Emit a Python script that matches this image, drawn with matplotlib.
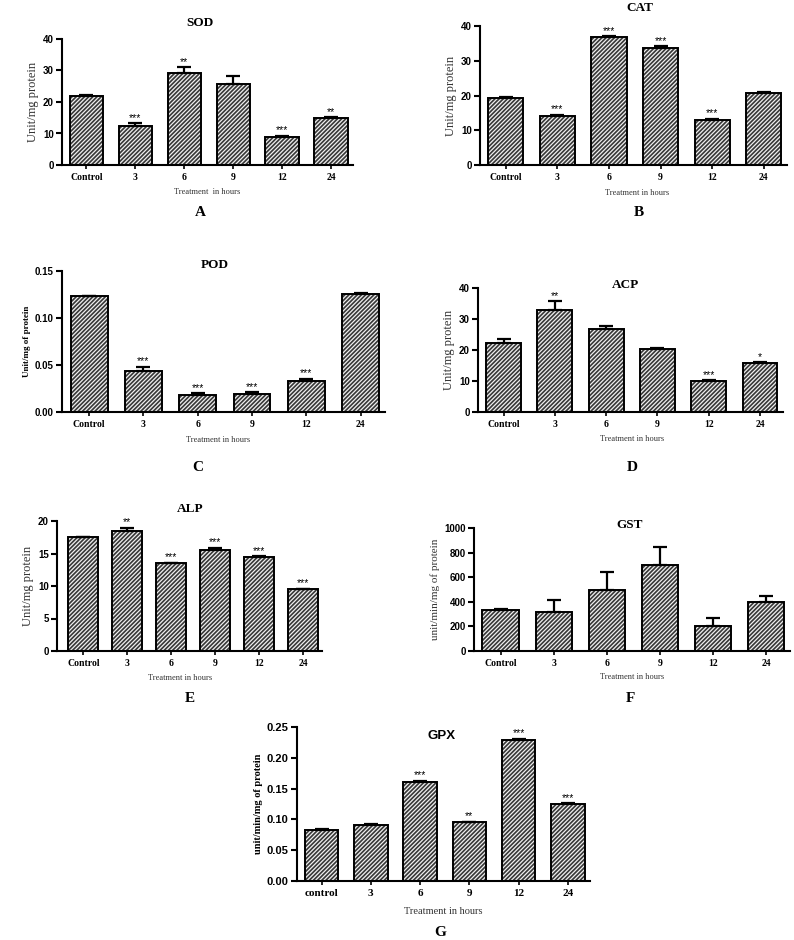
import matplotlib.pyplot as plt
import matplotlib as mpl

mpl.rcParams['hatch.linewidth'] = 0.9

# ---- data ----
hours = ['Control', '3', '6', '9', '12', '24']
hours_g = ['control', '3', '6', '9', '12', '24']

sod = [21.8, 12.5, 29.2, 25.8, 9.0, 14.8]
sod_err = [0.3, 0.7, 1.9, 2.3, 0.3, 0.3]
sod_sig = ['', '***', '**', '', '***', '**']

cat = [19.4, 14.1, 36.7, 33.7, 13.0, 20.6]
cat_err = [0.2, 0.3, 0.4, 0.5, 0.3, 0.3]
cat_sig = ['', '***', '***', '***', '***', '']

pod = [0.1232, 0.0434, 0.0180, 0.0187, 0.0325, 0.1257]
pod_err = [0.0005, 0.0050, 0.0020, 0.0025, 0.0030, 0.0010]
pod_sig = ['', '***', '***', '***', '***', '']

acp = [22.4, 32.8, 26.7, 20.2, 10.1, 15.7]
acp_err = [1.3, 3.0, 1.0, 0.5, 0.1, 0.3]
acp_sig = ['', '**', '', '', '***', '*']

alp = [17.5, 18.5, 13.5, 15.6, 14.5, 9.5]
alp_err = [0.05, 0.45, 0.05, 0.25, 0.05, 0.05]
alp_sig = ['', '**', '***', '***', '***', '***']

gst = [334, 315, 492, 696, 207, 402]
gst_err = [5, 100, 147, 146, 62, 46]
gst_sig = ['', '', '', '', '', '']

gpx = [0.0833, 0.0904, 0.1607, 0.0952, 0.2294, 0.1255]
gpx_err = [0.001, 0.0015, 0.002, 0.001, 0.0015, 0.001]
gpx_sig = ['', '', '***', '**', '***', '***']

W, H = 794, 940
fig = plt.figure(figsize=(W / 100, H / 100), dpi=100)


def fx(x):
    return x / W


def fy(y):
    return 1 - y / H


def panel(box, vals, errs, sig, labels, yticks, ymax, fmt, title, tpos,
          ylabel, ylab_bold, ylab_size, xlab_pos, letter, lpos,
          xlim=(-0.5, 5.45), title_sans=False, ytick_size=7, xtick_size=7):
    left, top, right, bottom = box
    ax = fig.add_axes([fx(left), fy(bottom), fx(right) - fx(left), (bottom - top) / H])
    x = range(len(vals))
    # hatched fill (white marks on dark) then a black outline
    ax.bar(x, vals, width=0.68, color='#383838', edgecolor='#f0f0f0',
           hatch='////////', linewidth=0, zorder=2)
    ax.bar(x, vals, width=0.68, fill=False, edgecolor='black',
           linewidth=1.4, zorder=3)
    ax.errorbar(x, vals, yerr=[[0] * len(vals), errs], fmt='none',
                ecolor='black', elinewidth=1.6, capsize=5, capthick=1.6, zorder=4)
    for i, s in enumerate(sig):
        if s:
            ax.annotate(s, (i, vals[i] + errs[i]), xytext=(0, 0.3),
                        textcoords='offset points', ha='center', va='bottom',
                        fontsize=7.5, family='Liberation Sans')
    ax.set_xlim(*xlim)
    ax.set_ylim(0, ymax)
    ax.set_yticks(yticks)
    ax.set_yticklabels([fmt.format(v) for v in yticks],
                       fontsize=ytick_size, fontweight='bold', family='Liberation Sans')
    ax.set_xticks(list(x))
    ax.set_xticklabels(labels, fontsize=xtick_size, fontweight='bold',
                       family='Liberation Serif')
    for side in ('top', 'right'):
        ax.spines[side].set_visible(False)
    for side in ('left', 'bottom'):
        ax.spines[side].set_linewidth(1.5)
    ax.tick_params(axis='y', length=4, width=1.5, pad=2)
    ax.tick_params(axis='x', length=3, width=1.2, pad=3)
    ax.set_ylabel(ylabel, family='Liberation Serif', fontsize=ylab_size,
                  fontweight='bold' if ylab_bold else 'normal',
                  color='black' if ylab_bold else '#333333', labelpad=3)
    fig.text(fx(tpos[0]), fy(tpos[1]), title, ha='center', va='center',
             fontsize=9.5, fontweight='bold',
             family='Liberation Sans' if title_sans else 'Liberation Serif')
    fig.text(fx(xlab_pos[0]), fy(xlab_pos[1]), 'Treatment  in hours' if letter == 'A' else 'Treatment in hours',
             ha='center', va='center', fontsize=6 if letter not in 'G' else 7.5,
             family='Liberation Serif', color='#333333')
    fig.text(fx(lpos[0]), fy(lpos[1]), letter, ha='center', va='center',
             fontsize=11, fontweight='bold', family='Liberation Serif')
    return ax


panel((62, 39, 353, 165), sod, sod_err, sod_sig, hours, [0, 10, 20, 30, 40], 40, '{:.0f}',
      'SOD', (200, 23), 'Unit/mg protein', False, 9, (207, 192), 'A', (200, 212))
panel((480, 26, 787, 165), cat, cat_err, cat_sig, hours, [0, 10, 20, 30, 40], 40, '{:.0f}',
      'CAT', (640, 8), 'Unit/mg protein', False, 9, (637, 193), 'B', (639, 212))
panel((62, 271, 385, 412), pod, pod_err, pod_sig, hours, [0, 0.05, 0.10, 0.15], 0.15, '{:.2f}',
      'POD', (215, 265), 'Unit/mg of protein', True, 6.5, (218, 440), 'C', (198, 468))
panel((478, 288, 783, 412), acp, acp_err, acp_sig, hours, [0, 10, 20, 30, 40], 40, '{:.0f}',
      'ACP', (625, 285), 'Unit/mg protein', False, 9, (632, 439), 'D', (632, 468))
panel((57, 521, 322, 651), alp, alp_err, alp_sig, hours, [0, 5, 10, 15, 20], 20, '{:.0f}',
      'ALP', (190, 509), 'Unit/mg protein', False, 9, (180, 678), 'E', (190, 698),
      xlim=(-0.6, 5.43))
panel((474, 528, 790, 651), gst, gst_err, gst_sig, hours, [0, 200, 400, 600, 800, 1000], 1000,
      '{:.0f}', 'GST', (630, 525), 'unit/min/mg of protein', False, 8, (632, 677), 'F', (630, 698))
panel((297, 727, 590, 881), gpx, gpx_err, gpx_sig, hours_g, [0, 0.05, 0.10, 0.15, 0.20, 0.25],
      0.25, '{:.2f}', 'GPX', (442, 736), 'unit/min/mg of protein', True, 7.5, (443, 911), 'G',
      (440, 932), title_sans=True, ytick_size=8, xtick_size=8)

fig.savefig('out.png', dpi=100)
